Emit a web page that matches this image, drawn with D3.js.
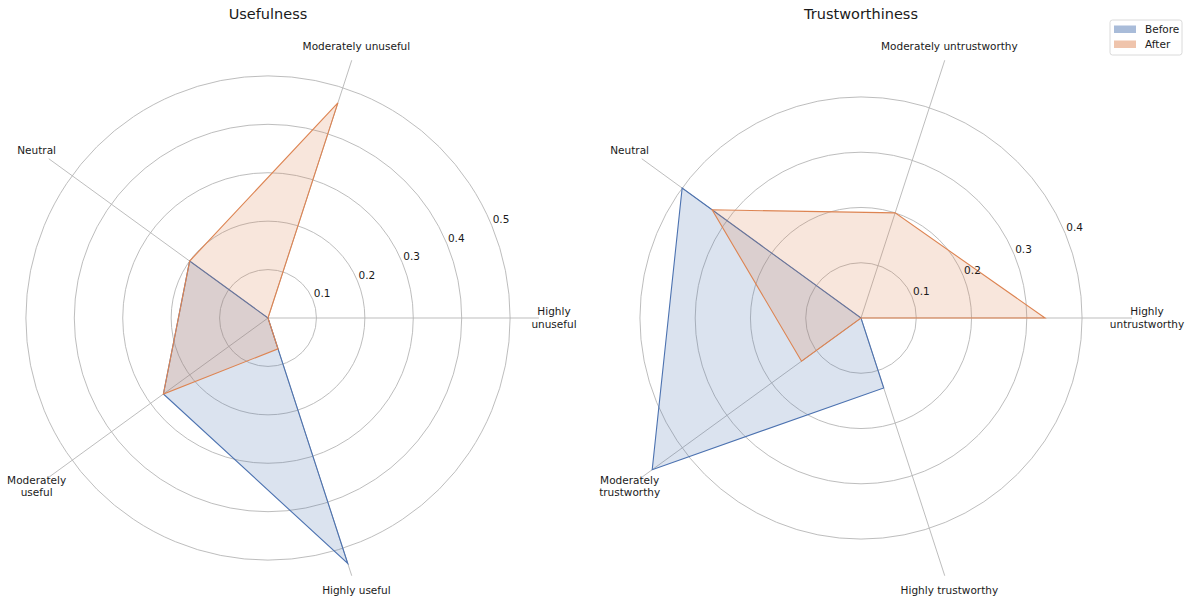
<!DOCTYPE html>
<html>
<head>
<meta charset="utf-8">
<script src="https://cdn.jsdelivr.net/npm/d3@7"></script>
<style>
  html, body { margin: 0; padding: 0; background: #fff; }
  text { font-family: "DejaVu Sans", sans-serif; fill: #1a1a1a; }
</style>
</head>
<body>
<svg id="chart" width="1195" height="599"></svg>
<script>
// ---- data ----
const usefulnessCategories = ["Highly\nunuseful", "Moderately unuseful", "Neutral", "Moderately\nuseful", "Highly useful"];
const usefulnessBefore = [0, 0, 0.2, 0.267, 0.533];
const usefulnessAfter  = [0, 0.467, 0.2, 0.267, 0.067];
const usefulnessTicks  = [0.1, 0.2, 0.3, 0.4, 0.5];

const trustCategories = ["Highly\nuntrustworthy", "Moderately untrustworthy", "Neutral", "Moderately\ntrustworthy", "Highly trustworthy"];
const trustBefore = [0, 0, 0.4, 0.467, 0.133];
const trustAfter  = [0.333, 0.2, 0.333, 0.133, 0];
const trustTicks  = [0.1, 0.2, 0.3, 0.4];

const seriesNames = ["Before", "After"];
const seriesColors = ["#4C72B0", "#DD8452"];

const charts = [
  { title: "Usefulness", cats: usefulnessCategories, series: [usefulnessBefore, usefulnessAfter], ticks: usefulnessTicks, cx: 268, cy: 318 },
  { title: "Trustworthiness", cats: trustCategories, series: [trustBefore, trustAfter], ticks: trustTicks, cx: 861, cy: 318 }
];

const svg = d3.select("#chart");
const R = 271;          // outer radius in px
const labelR = 286;     // category label radius

charts.forEach(ch => {
  const g = svg.append("g").attr("transform", `translate(${ch.cx},${ch.cy})`);
  const maxV = d3.max(ch.series.flat());
  const r = d3.scaleLinear().domain([0, maxV * 1.05]).range([0, R]);
  const n = ch.cats.length;
  // angle in math convention (counter-clockwise from east)
  const ang = d3.scaleLinear().domain([0, n]).range([0, 2 * Math.PI]);
  const px = (i, v) => r(v) * Math.cos(ang(i));
  const py = (i, v) => -r(v) * Math.sin(ang(i));

  // grid circles
  g.selectAll("circle.grid").data(ch.ticks).join("circle")
    .attr("r", d => r(d)).attr("fill", "none")
    .attr("stroke", "#b5b5b5").attr("stroke-width", 0.9);
  // spokes
  g.selectAll("line.spoke").data(d3.range(n)).join("line")
    .attr("x1", 0).attr("y1", 0)
    .attr("x2", i => px(i, r.domain()[1])).attr("y2", i => py(i, r.domain()[1]))
    .attr("stroke", "#b5b5b5").attr("stroke-width", 0.9);

  // series
  const line = d3.line().x(d => d[0]).y(d => d[1]).curve(d3.curveLinearClosed);
  ch.series.forEach((vals, si) => {
    const pts = vals.map((v, i) => [px(i, v), py(i, v)]);
    g.append("path").attr("d", line(pts))
      .attr("fill", seriesColors[si]).attr("fill-opacity", 0.2)
      .attr("stroke", "none");
    g.append("path").attr("d", line(pts))
      .attr("fill", "none").attr("stroke", seriesColors[si])
      .attr("stroke-width", 1.1).attr("stroke-linejoin", "miter");
  });

  // radial tick labels at 22.5 deg
  const la = 22.5 * Math.PI / 180;
  g.selectAll("text.rtick").data(ch.ticks).join("text")
    .attr("x", d => r(d) * Math.cos(la) + 1)
    .attr("y", d => -r(d) * Math.sin(la) - 2)
    .attr("font-size", "10.5px")
    .attr("text-anchor", "start")
    .text(d => d3.format(".1f")(d));

  // category labels
  ch.cats.forEach((c, i) => {
    const lines = c.split("\n");
    const x = labelR * Math.cos(ang(i));
    const y = -labelR * Math.sin(ang(i));
    const lh = 12.5;
    const t = g.append("text").attr("font-size", "10.5px").attr("text-anchor", "middle");
    lines.forEach((l, k) => {
      t.append("tspan").attr("x", x)
        .attr("y", y + (k - (lines.length - 1) / 2) * lh)
        .attr("dy", "0.35em").text(l);
    });
  });

  // title
  svg.append("text").attr("x", ch.cx).attr("y", 19)
    .attr("text-anchor", "middle").attr("font-size", "14.5px").text(ch.title);
});

// legend
const lg = svg.append("g").attr("transform", "translate(1110,20)");
lg.append("rect").attr("width", 72).attr("height", 35).attr("rx", 2.5)
  .attr("fill", "#fff").attr("fill-opacity", 0.8)
  .attr("stroke", "#d6d6d6").attr("stroke-width", 0.9);
seriesNames.forEach((s, i) => {
  lg.append("rect").attr("x", 4).attr("y", 5.5 + i * 15).attr("width", 22).attr("height", 7.5)
    .attr("fill", seriesColors[i]).attr("fill-opacity", 0.48);
  lg.append("text").attr("x", 35).attr("y", 9.3 + i * 15).attr("dy", "0.35em")
    .attr("font-size", "10.5px").text(s);
});
</script>
</body>
</html>
